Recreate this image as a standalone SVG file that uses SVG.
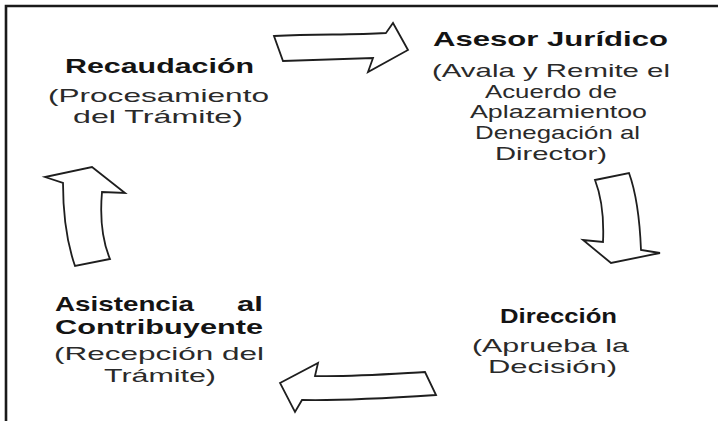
<svg xmlns="http://www.w3.org/2000/svg" width="718" height="421" viewBox="0 0 718 421">
<style>
.t{font-family:"Liberation Sans",Arial,sans-serif;font-weight:bold;font-size:20.5px;fill:#141414}
.s{font-family:"Liberation Sans",Arial,sans-serif;font-size:19px;fill:#2a2a2a}
.arr{fill:#ffffff;stroke:#1e1e1e;stroke-width:1.8;stroke-linejoin:miter}
</style>
<rect x="0" y="0" width="718" height="421" fill="#ffffff"/>
<path d="M6,421 L6,6 L718,6" fill="none" stroke="#1a1a1a" stroke-width="2.6"/>

<g id="recaudacion">
<text class="t" x="65" y="73" textLength="189" lengthAdjust="spacingAndGlyphs">Recaudación</text>
<text class="s" x="48" y="102" textLength="221" lengthAdjust="spacingAndGlyphs">(Procesamiento</text>
<text class="s" x="73" y="123" textLength="170" lengthAdjust="spacingAndGlyphs">del Trámite)</text>
</g>

<g id="asesor">
<text class="t" x="433" y="46" textLength="235" lengthAdjust="spacingAndGlyphs">Asesor Jurídico</text>
<text class="s" x="432" y="77" textLength="238" lengthAdjust="spacingAndGlyphs">(Avala y Remite el</text>
<text class="s" x="485" y="98" textLength="132" lengthAdjust="spacingAndGlyphs">Acuerdo de</text>
<text class="s" x="470" y="118" textLength="177" lengthAdjust="spacingAndGlyphs">Aplazamientoo</text>
<text class="s" x="475" y="139" textLength="165" lengthAdjust="spacingAndGlyphs">Denegación al</text>
<text class="s" x="495" y="160" textLength="112" lengthAdjust="spacingAndGlyphs">Director)</text>
</g>

<g id="direccion">
<text class="t" x="500" y="323" textLength="117" lengthAdjust="spacingAndGlyphs">Dirección</text>
<text class="s" x="472" y="352" textLength="157" lengthAdjust="spacingAndGlyphs">(Aprueba la</text>
<text class="s" x="488" y="373" textLength="129" lengthAdjust="spacingAndGlyphs">Decisión)</text>
</g>

<g id="asistencia">
<text class="t" y="311"><tspan x="55" textLength="139" lengthAdjust="spacingAndGlyphs">Asistencia</tspan><tspan x="237" textLength="26" lengthAdjust="spacingAndGlyphs">al</tspan></text>
<text class="t" x="55" y="334" textLength="208" lengthAdjust="spacingAndGlyphs">Contribuyente</text>
<text class="s" x="54" y="360" textLength="210" lengthAdjust="spacingAndGlyphs">(Recepción del</text>
<text class="s" x="104" y="382" textLength="112" lengthAdjust="spacingAndGlyphs">Trámite)</text>
</g>

<g id="connectors">
<path class="arr" d="M274,36 C320,34 350,35 386,33 L393,23 L408,50 L368,72 L373,58 C340,59 310,60 283,61 Z"/>
<path class="arr" d="M595,180 L629,173 C637,195 640,225 641,250 L660,253 L611,263 L583,240 L603,242 C604,220 602,198 595,180 Z"/>
<path class="arr" d="M280,383 L318,363 L315,376 C350,377 390,374 425,372 L436,395 C390,398 340,401 302,400 L295,412 Z"/>
<path class="arr" d="M75,266 C66,240 63,210 63,183 L45,177 L92,167 L125,193 L102,192 C100,215 102,240 110,259 Z"/>
</g>
</svg>
